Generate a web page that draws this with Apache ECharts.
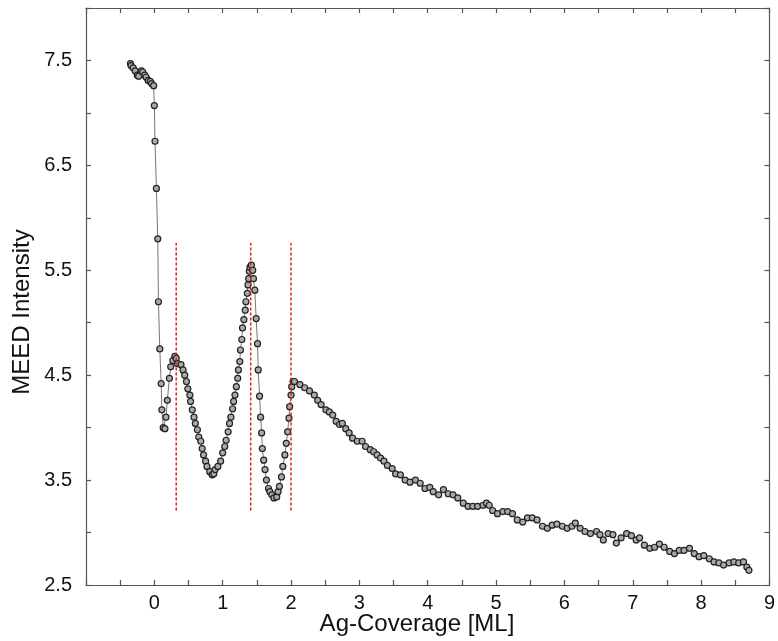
<!DOCTYPE html>
<html>
<head>
<meta charset="utf-8">
<script src="https://cdn.jsdelivr.net/npm/echarts@6/dist/echarts.min.js"></script>
<style>
html,body{margin:0;padding:0;background:#fff;}
#chart{width:778px;height:641px;}
</style>
</head>
<body>
<div id="chart"></div>
<script>
// Ag coverage [ML]
var coverage = [
-0.35,-0.34,-0.31,-0.28,-0.25,-0.23,-0.19,-0.17,-0.14,-0.12,-0.09,-0.06,-0.04,-0.01,
0.00,0.01,0.03,0.05,0.06,0.08,0.10,0.11,0.13,0.155,0.17,0.19,0.22,0.24,0.27,0.30,0.32,
0.34,0.39,0.42,0.445,0.47,0.49,0.52,0.53,0.555,0.58,0.60,0.63,0.65,0.68,0.70,0.72,0.75,0.77,0.81,0.845,
0.87,0.89,0.93,0.97,1.00,1.03,1.05,1.08,1.10,1.12,1.145,1.16,1.18,1.20,1.22,1.23,1.25,1.26,1.28,1.29,
1.31,1.33,1.34,1.36,1.37,1.38,1.39,1.40,1.42,1.44,1.45,1.47,1.49,1.51,1.52,1.54,1.555,1.57,1.58,1.60,
1.62,1.64,1.67,1.69,1.72,1.75,1.79,1.81,1.83,1.86,1.88,1.91,1.93,1.95,1.97,1.98,2.00,2.01,2.03,
2.05,2.13,2.20,2.27,2.34,2.39,2.44,2.51,2.56,2.61,2.66,2.71,2.75,2.80,2.85,2.90,2.97,3.04,3.09,3.16,
3.21,3.26,3.31,3.36,3.41,3.48,3.53,3.60,3.67,3.74,3.82,3.89,3.96,4.03,4.08,4.16,4.23,
4.30,4.37,4.44,4.52,4.59,4.66,4.73,4.81,4.86,4.90,4.95,5.02,5.10,5.17,5.24,5.31,5.39,5.46,5.53,5.60,
5.68,5.75,5.82,5.89,5.97,6.04,6.11,6.16,6.23,6.30,6.38,
6.47,6.52,6.57,6.64,6.71,6.76,6.83,6.91,6.98,7.05,7.10,7.17,7.25,7.32,7.39,7.46,7.54,7.61,7.68,7.75,
7.83,7.90,7.97,8.04,8.12,8.19,8.26,8.33,8.41,8.48,8.55,8.62,8.67,8.70
];
// MEED intensity
var intensity = [
7.47,7.45,7.43,7.40,7.36,7.35,7.40,7.39,7.36,7.34,7.31,7.30,7.28,7.26,
7.07,6.73,6.28,5.80,5.20,4.75,4.42,4.17,4.00,3.99,4.10,4.26,4.47,4.58,4.64,4.68,4.66,
4.61,4.60,4.55,4.50,4.44,4.37,4.31,4.25,4.17,4.10,4.04,3.98,3.91,3.87,3.80,3.74,3.68,3.63,3.58,3.55,
3.56,3.60,3.63,3.68,3.76,3.82,3.88,3.96,4.04,4.10,4.18,4.25,4.31,4.39,4.47,4.55,4.63,4.74,4.84,4.95,
5.03,5.12,5.20,5.28,5.36,5.42,5.49,5.53,5.55,5.50,5.42,5.31,5.04,4.80,4.55,4.30,4.10,3.95,3.80,3.69,
3.60,3.50,3.42,3.39,3.36,3.33,3.34,3.39,3.44,3.53,3.63,3.74,3.85,3.96,4.09,4.20,4.31,4.39,4.44,
4.44,4.41,4.38,4.35,4.31,4.26,4.22,4.17,4.15,4.12,4.06,4.03,4.04,3.99,3.95,3.90,3.87,3.87,3.82,3.79,
3.77,3.74,3.71,3.68,3.64,3.61,3.56,3.55,3.50,3.48,3.50,3.47,3.42,3.43,3.39,3.36,3.41,
3.37,3.36,3.33,3.28,3.25,3.25,3.25,3.26,3.28,3.26,3.21,3.18,3.20,3.20,3.18,3.12,3.10,3.14,3.14,3.12,
3.06,3.04,3.07,3.08,3.06,3.04,3.06,3.09,3.04,3.01,2.99,
3.01,2.98,2.93,2.99,2.98,2.90,2.95,2.99,2.97,2.93,2.95,2.88,2.85,2.86,2.89,2.86,2.82,2.80,2.83,2.83,
2.85,2.80,2.77,2.78,2.75,2.72,2.71,2.69,2.71,2.72,2.71,2.72,2.67,2.64
];
// red dashed guide lines
var guideX = [0.32, 1.41, 2.0];
var guideBottom = 3.21;
var guideTop = 5.76;
// tick labels
var xTickLabels = ['0','1','2','3','4','5','6','7','8','9'];
var yTickLabels = ['2.5','3.5','4.5','5.5','6.5','7.5'];

var pts = coverage.map(function(x, i){ return [x, intensity[i]]; });

var axisLine = {show:true, onZero:false, lineStyle:{color:'#555', width:1.2}};
var axisTick = {show:true, inside:true, length:5, lineStyle:{color:'#555', width:1.2}};
var labelFont = {fontFamily:'Liberation Sans, Arial, sans-serif', fontSize:20, color:'#111'};

var series = [{
  type:'line', data:pts, xAxisIndex:0, yAxisIndex:0,
  symbol:'circle', symbolSize:6, showAllSymbol:true,
  lineStyle:{color:'#777', width:1},
  itemStyle:{color:'#aaa', borderColor:'#222', borderWidth:1.2},
  z:3, animation:false
}];
guideX.forEach(function(gx){
  series.push({
    type:'line', data:[[gx, guideBottom],[gx, guideTop]], symbol:'none',
    lineStyle:{color:'#d9261c', width:1.5, type:[3,2]}, z:4, animation:false
  });
});

var chart = echarts.init(document.getElementById('chart'), null, {renderer:'canvas'});
chart.setOption({
  animation:false,
  backgroundColor:'#fff',
  grid:{left:86, top:8, width:690, height:577, containLabel:false},
  xAxis:[{
    type:'value', min:-1, max:9, interval:0.5, position:'bottom',
    axisLine:axisLine, axisTick:axisTick, splitLine:{show:false},
    axisLabel:Object.assign({margin:8, showMaxLabel:true,
      formatter:function(v){ var i = xTickLabels.indexOf(String(v)); return i>=0 ? xTickLabels[i] : ''; }}, labelFont)
  },{
    type:'value', min:-1, max:9, interval:0.5, position:'top',
    axisLine:axisLine, axisTick:axisTick, splitLine:{show:false}, axisLabel:{show:false}
  }],
  yAxis:[{
    type:'value', min:2.5, max:8, interval:0.5, position:'left',
    axisLine:axisLine, axisTick:axisTick, splitLine:{show:false},
    axisLabel:Object.assign({margin:14,
      formatter:function(v){ var s = v.toFixed(1); return yTickLabels.indexOf(s)>=0 ? s : ''; }}, labelFont)
  },{
    type:'value', min:2.5, max:8, interval:0.5, position:'right',
    axisLine:axisLine, axisTick:axisTick, splitLine:{show:false}, axisLabel:{show:false}
  }],
  graphic:[{
    type:'text', x:417, y:624,
    style:{text:'Ag-Coverage [ML]', font:'24px "Liberation Sans", Arial, sans-serif', fill:'#111', textAlign:'center', textVerticalAlign:'middle'}
  },{
    type:'text', x:22, y:312, rotation:Math.PI/2,
    style:{text:'MEED Intensity', font:'24px "Liberation Sans", Arial, sans-serif', fill:'#111', textAlign:'center', textVerticalAlign:'middle'}
  }],
  series:series
});
</script>
</body>
</html>
